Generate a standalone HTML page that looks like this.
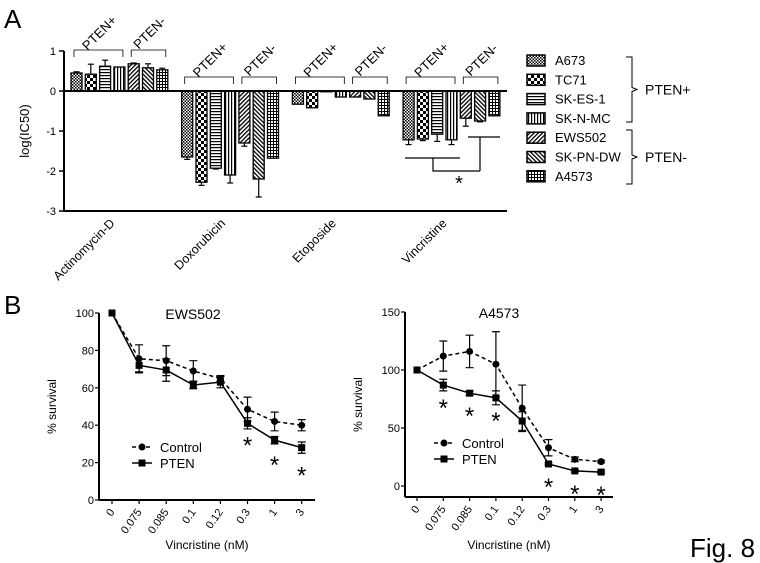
<!DOCTYPE html>
<html><head><meta charset="utf-8"><style>
body{margin:0;background:#fff;}
svg{display:block;font-family:"Liberation Sans",sans-serif;}
</style></head><body>
<svg id="fig" width="760" height="563" viewBox="0 0 760 563">
<defs>
<pattern id="p0" width="3" height="3" patternUnits="userSpaceOnUse"><rect width="3" height="3" fill="#fff"/><rect width="1.5" height="1.5" fill="#000"/><rect x="1.5" y="1.5" width="1.5" height="1.5" fill="#000"/></pattern>
<pattern id="p1" width="6" height="6" patternUnits="userSpaceOnUse"><rect width="6" height="6" fill="#fff"/><rect width="3" height="3" fill="#000"/><rect x="3" y="3" width="3" height="3" fill="#000"/></pattern>
<pattern id="p2" width="4" height="3" patternUnits="userSpaceOnUse"><rect width="4" height="3" fill="#fff"/><rect width="4" height="1.2" fill="#000"/></pattern>
<pattern id="p3" width="3" height="4" patternUnits="userSpaceOnUse"><rect width="3" height="4" fill="#fff"/><rect width="1.2" height="4" fill="#000"/></pattern>
<pattern id="p4" width="3" height="3" patternUnits="userSpaceOnUse" patternTransform="rotate(45)"><rect width="3" height="3" fill="#fff"/><rect width="1.3" height="3" fill="#000"/></pattern>
<pattern id="p5" width="3" height="3" patternUnits="userSpaceOnUse" patternTransform="rotate(-45)"><rect width="3" height="3" fill="#fff"/><rect width="1.3" height="3" fill="#000"/></pattern>
<pattern id="p6" width="3" height="3" patternUnits="userSpaceOnUse"><rect width="3" height="3" fill="#fff"/><rect width="3" height="1" fill="#000"/><rect width="1" height="3" fill="#000"/></pattern>
</defs>
<text x="4" y="28" font-size="26">A</text>
<text x="4" y="314" font-size="26">B</text>
<text x="690" y="557" font-size="26">Fig. 8</text>
<g id="gA"></g>
<g id="gB1"></g>
<g id="gB2"></g>
</svg>
<script>
const drugs=["Actinomycin-D","Doxorubicin","Etoposide","Vincristine"];
const cellLines=["A673","TC71","SK-ES-1","SK-N-MC","EWS502","SK-PN-DW","A4573"];
const logIC50=[
 [0.45,0.42,0.62,0.6,0.68,0.58,0.53],
 [-1.65,-2.28,-1.93,-2.1,-1.3,-2.2,-1.68],
 [-0.33,-0.42,-0.02,-0.15,-0.15,-0.2,-0.62],
 [-1.22,-1.2,-1.08,-1.22,-0.68,-0.75,-0.62]];
const logErr=[
 [0.03,0.25,0.15,0,0.02,0.1,0.04],
 [0.06,0.08,0.02,0.2,0.08,0.45,0],
 [0,0,0,0,0,0,0],
 [0.12,0.04,0.18,0.12,0.2,0.02,0]];
const yTicksA=[1,0,-1,-2,-3];
const concLabels=["0","0.075","0.085","0.1","0.12","0.3","1","3"];
const ewsControl=[100,75.5,74.5,69,65,48.5,42,40];
const ewsControlErr=[0,7.5,8,5.5,1.5,6.5,5,3];
const ewsPTEN=[100,72,69.5,61.5,63,41,32,28];
const ewsPTENErr=[0,3.5,6,2,3,3,2,3];
const ewsStars=[5,6,7];
const aControl=[100,112,116,105,67,33,23,21];
const aControlErr=[0,13,14,28,20,7,2,1];
const aPTEN=[100,87,80,76,56,19,13,12];
const aPTENErr=[0,5,2,6,8,1,1,1];
const aStars=[1,2,3,5,6,7];
const ticksEWS=[0,20,40,60,80,100];
const ticksA=[0,50,100,150];

const NS="http://www.w3.org/2000/svg";
function mk(p,t,a,txt){const e=document.createElementNS(NS,t);for(const k in a)e.setAttribute(k,a[k]);if(txt!==undefined)e.textContent=txt;p.appendChild(e);return e;}

// Panel A
const gA=document.getElementById('gA');
const yA=v=>91-v*40;
const groupX=g=>71+g*110.7;
const barX=(g,i)=>groupX(g)+i*14.3;
const BW=11;
mk(gA,'line',{x1:64,y1:yA(1),x2:64,y2:yA(-3),stroke:'#000','stroke-width':2});
mk(gA,'line',{x1:63,y1:yA(-3),x2:507,y2:yA(-3),stroke:'#000','stroke-width':2});
yTicksA.forEach(t=>{
 const l=mk(gA,'line',{x1:59,y1:yA(t),x2:64,y2:yA(t),stroke:'#000','stroke-width':1.5});
 
 const tx=mk(gA,'text',{x:56,y:yA(t)+4,'font-size':11,'text-anchor':'end'},String(t));
 
});
const yt=mk(gA,'text',{x:0,y:0,'font-size':13,'text-anchor':'middle',transform:'translate(29,131) rotate(-90)'},'log(IC50)');

drugs.forEach((d,g)=>{
 cellLines.forEach((c,i)=>{
  const v=logIC50[g][i],e=logErr[g][i],x=barX(g,i);
  const y0=yA(0),y1=yA(v);
  const r=mk(gA,'rect',{x:x,y:Math.min(y0,y1),width:BW,height:Math.abs(y1-y0),fill:'url(#p'+i+')',stroke:'#000','stroke-width':1.3});
  
  
  if(e>0){const s=v>=0?1:-1;const ye=yA(v+s*e);const cx=x+BW/2;
   mk(gA,'line',{x1:cx,y1:y1,x2:cx,y2:ye,stroke:'#000','stroke-width':1.2});
   mk(gA,'line',{x1:cx-3,y1:ye,x2:cx+3,y2:ye,stroke:'#000','stroke-width':1.2});}
 });
 const by=g==0?50:77;
 [[0,3,'PTEN+'],[4,6,'PTEN-']].forEach(([a,b,lab])=>{
  const xa=barX(g,a)+3,xb=barX(g,b)+BW-2;
  const p=mk(gA,'path',{d:`M${xa},${by+7}V${by}H${xb}V${by+7}`,fill:'none',stroke:'#000','stroke-width':0.8});
  
  const cx=(xa+xb)/2;
  const t=mk(gA,'text',{x:0,y:0,'font-size':13,'text-anchor':'middle',transform:`translate(${cx+4},${by-14}) rotate(-45)`},lab);
  
 });
 const lx=groupX(g)+(6*14.3+BW)/2-4;
 const t=mk(gA,'text',{x:0,y:0,'font-size':12.5,'text-anchor':'end',transform:`translate(${lx},${224}) rotate(-45)`},d);
 
});
mk(gA,'line',{x1:64,y1:yA(0),x2:507,y2:yA(0),stroke:'#000','stroke-width':2});
// significance
const sig=mk(gA,'path',{d:'M405,158H460M433,158V171H480M480,137V171M468,137H500',fill:'none',stroke:'#000','stroke-width':1.2});

const st=mk(gA,'text',{x:459,y:190,'font-size':20,'text-anchor':'middle'},'*');

// legend
cellLines.forEach((c,i)=>{
 const y=55+i*19.3;
 const r=mk(gA,'rect',{x:527,y:y,width:18,height:11,fill:'url(#p'+i+')',stroke:'#000','stroke-width':1.5});
 
 const t=mk(gA,'text',{x:555,y:y+10,'font-size':13},c);
 
});
[[57,122,'PTEN+'],[130,184,'PTEN-']].forEach(([a,b,lab])=>{
 const m=(a+b)/2;
 const p=mk(gA,'path',{d:`M626,${a}H632V${m-2}L637,${m}L632,${m+2}V${b}H626`,fill:'none',stroke:'#000','stroke-width':1});
 
 const t=mk(gA,'text',{x:645,y:m+5,'font-size':14},lab);
 
});

// Panel B
function lineChart(g,o){
 const X=i=>o.x0+i*o.dx, Y=v=>o.yBase-(v/o.yMax)*(o.yBase-o.yTop);
 mk(g,'line',{x1:o.ax,y1:o.yTop,x2:o.ax,y2:o.axisY,stroke:'#000','stroke-width':2});
 mk(g,'line',{x1:o.ax,y1:o.axisY,x2:o.xEnd,y2:o.axisY,stroke:'#000','stroke-width':2});
 o.ticks.forEach(t=>{
  mk(g,'line',{x1:o.ax-4,y1:Y(t),x2:o.ax,y2:Y(t),stroke:'#000','stroke-width':1.2});
  const tx=mk(g,'text',{x:o.ax-5,y:Y(t)+4,'font-size':11,'text-anchor':'end'},String(t));
  
 });
 concLabels.forEach((c,i)=>{
  mk(g,'line',{x1:X(i),y1:o.axisY,x2:X(i),y2:o.axisY+4,stroke:'#000','stroke-width':1.2});
  const tx=mk(g,'text',{x:0,y:0,'font-size':11,'text-anchor':'end',transform:`translate(${X(i)+3},${o.axisY+12}) rotate(-55)`},c);
  
 });
 const tt=mk(g,'text',{x:o.tx,y:o.yTop+6,'font-size':14,'text-anchor':'middle'},o.title);
 
 const yl=mk(g,'text',{x:0,y:0,'font-size':12,'text-anchor':'middle',transform:`translate(${o.ylx},${(o.yTop+o.axisY)/2}) rotate(-90)`},'% survival');
 
 const xl=mk(g,'text',{x:(o.ax+o.xEnd)/2,y:549,'font-size':12,'text-anchor':'middle'},'Vincristine (nM)');
 
 [[o.ctrl,o.ctrlErr,'4,3','circle','control'],[o.pten,o.ptenErr,'','square','pten']].forEach(([vals,errs,dash,shape,nm])=>{
  const pl=mk(g,'polyline',{points:vals.map((v,i)=>X(i)+','+Y(v)).join(' '),fill:'none',stroke:'#000','stroke-width':1.5,'stroke-dasharray':dash});
  
  vals.forEach((v,i)=>{
   const e=errs[i];
   if(e>0){mk(g,'path',{d:`M${X(i)},${Y(v-e)}V${Y(v+e)}M${X(i)-4},${Y(v+e)}H${X(i)+4}M${X(i)-4},${Y(v-e)}H${X(i)+4}`,stroke:'#000','stroke-width':1.2,fill:'none'});}
   const m=shape=='circle'?mk(g,'circle',{cx:X(i),cy:Y(v),r:3.5,fill:'#000'}):mk(g,'rect',{x:X(i)-3.5,y:Y(v)-3.5,width:7,height:7,fill:'#000'});
   
  });
 });
 o.stars.forEach(i=>{
  const s=mk(g,'text',{x:X(i),y:Y(o.pten[i])+o.starOff+(i-o.stars[0])*o.starStep,'font-size':24,'text-anchor':'middle'},'*');
  
 });
 [['Control','4,3','circle',0],['PTEN','','square',16]].forEach(([lab,dash,shape,dy])=>{
  const y=o.ly+dy;
  mk(g,'line',{x1:o.lx-10,y1:y,x2:o.lx+10,y2:y,stroke:'#000','stroke-width':1.5,'stroke-dasharray':dash});
  if(shape=='circle')mk(g,'circle',{cx:o.lx,cy:y,r:3.5,fill:'#000'});else mk(g,'rect',{x:o.lx-3.5,y:y-3.5,width:7,height:7,fill:'#000'});
  const t=mk(g,'text',{x:o.lx+18,y:y+5,'font-size':13},lab);
  
 });
}
lineChart(document.getElementById('gB1'),{x0:112,dx:27.1,ax:99,xEnd:315,yTop:313,yBase:500,axisY:500,yMax:100,ticks:ticksEWS,title:'EWS502',tx:193,ylx:56,ctrl:ewsControl,ctrlErr:ewsControlErr,pten:ewsPTEN,ptenErr:ewsPTENErr,stars:ewsStars,starOff:30,starStep:3,lx:142,ly:447});
lineChart(document.getElementById('gB2'),{x0:417,dx:26.3,ax:405,xEnd:613,yTop:312,yBase:486,axisY:497,yMax:150,ticks:ticksA,title:'A4573',tx:499,ylx:362,ctrl:aControl,ctrlErr:aControlErr,pten:aPTEN,ptenErr:aPTENErr,stars:aStars,starOff:31,starStep:0,lx:444,ly:443});
</script>
</body></html>
